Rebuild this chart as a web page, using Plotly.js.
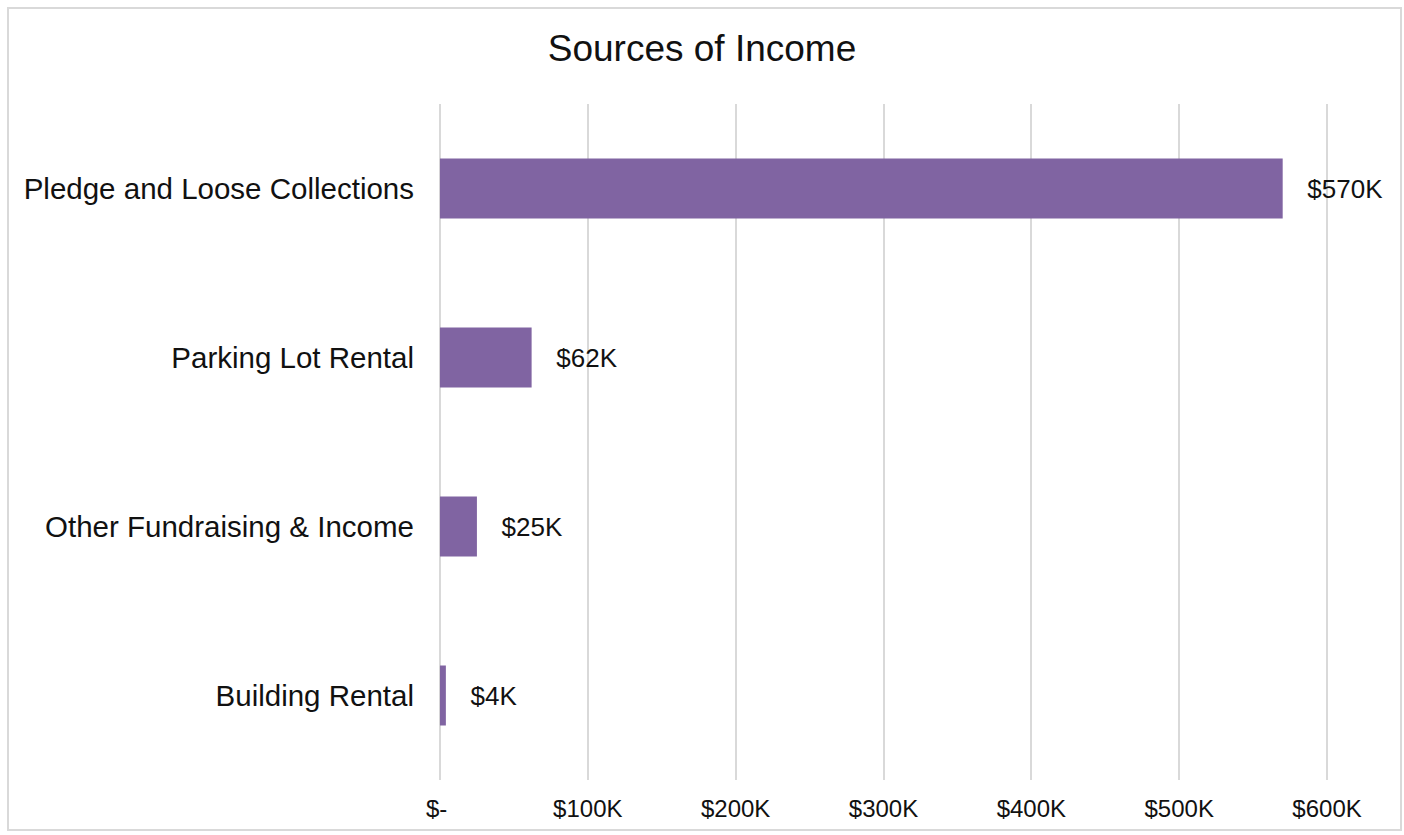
<!DOCTYPE html>
<html>
<head>
<meta charset="utf-8">
<script src="https://cdn.plot.ly/plotly-3.0.1.min.js"></script>
<style>
  html, body { margin: 0; padding: 0; background: #fff; }
  #wrap { position: relative; width: 1404px; height: 835px; }
  #chart { width: 1404px; height: 835px; }
  #frame { position: absolute; left: 7px; top: 7px; width: 1391px; height: 820px;
           border: 2px solid #d9d9d9; pointer-events: none; }
</style>
</head>
<body>
<div id="wrap"><div id="chart"></div><div id="frame"></div></div>
<script>
const categories = ["Pledge and Loose Collections", "Parking Lot Rental", "Other Fundraising & Income", "Building Rental"];
const incomeValues = [570000, 62000, 25000, 4000];
const tickValues = [0, 100000, 200000, 300000, 400000, 500000, 600000];
const tickLabels = ["$-\u00a0", "$100K", "$200K", "$300K", "$400K", "$500K", "$600K"];

const barLabels = incomeValues.map(v => "\u00a0\u00a0\u00a0$" + Math.round(v / 1000) + "K");
const FONT = "Liberation Sans, Arial, sans-serif";

const trace = {
  type: "bar",
  orientation: "h",
  y: categories,
  x: incomeValues,
  text: barLabels,
  textposition: "outside",
  cliponaxis: false,
  textfont: { family: FONT, size: 26, color: "#111" },
  marker: { color: "#8064A2" },
  hoverinfo: "skip"
};

const layout = {
  width: 1404, height: 835,
  paper_bgcolor: "#fff", plot_bgcolor: "#fff",
  margin: { l: 437, r: 74, t: 104, b: 55 },
  bargap: 0.645,
  showlegend: false,
  title: { text: "Sources of Income", font: { family: FONT, size: 37, color: "#111" },
           x: 0.5, xref: "container", y: 1 - 48 / 835, yref: "container", yanchor: "middle" },
  xaxis: {
    range: [-2000, 602000], tickmode: "array", tickvals: tickValues, ticktext: tickLabels,
    showgrid: true, gridcolor: "#d9d9d9", gridwidth: 2,
    zeroline: true, zerolinecolor: "#d9d9d9", zerolinewidth: 2,
    showline: false, ticks: "",
    ticklabelstandoff: 12,
    tickfont: { family: FONT, size: 24, color: "#111" }, fixedrange: true
  },
  yaxis: {
    type: "category", autorange: "reversed",
    showgrid: false, zeroline: false, showline: false, ticks: "",
    ticklabelstandoff: 22,
    tickfont: { family: FONT, size: 29.5, color: "#111" }, fixedrange: true
  }
};

Plotly.newPlot("chart", [trace], layout, { displayModeBar: false, staticPlot: true });
</script>
</body>
</html>
